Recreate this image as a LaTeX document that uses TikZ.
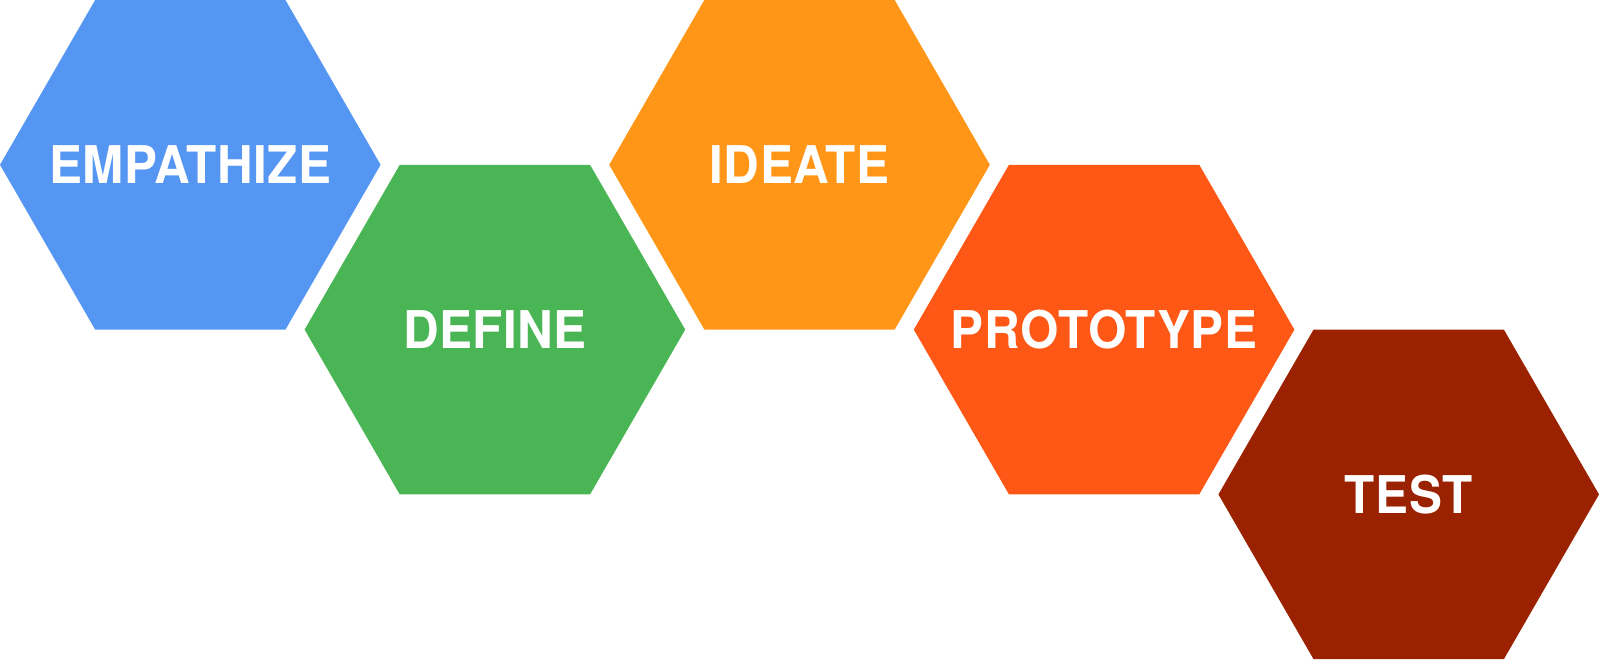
\documentclass[tikz,border=0pt]{standalone}
\usepackage{fontspec}
\setmainfont{TeX Gyre Heros}
\newfontfamily\phasefont[LetterSpace=1, FakeStretch=0.95]{TeX Gyre Heros}
\usepackage{tikz}
\usetikzlibrary{positioning}
\definecolor{empblue}{RGB}{86,150,243}
\definecolor{defgreen}{RGB}{74,181,84}
\definecolor{ideorange}{RGB}{255,150,24}
\definecolor{proorange}{RGB}{255,87,22}
\definecolor{testred}{RGB}{155,34,0}
\newcommand{\hexr}{190.3}
\tikzset{
    phase/.style={text=white, inner sep=0pt, font=\phasefont\fontsize{52}{52}\selectfont\bfseries}
}

\begin{document}
\begin{tikzpicture}[x=1pt, y=-1pt]
            \useasboundingbox (0,0) rectangle (1600,659);
            \coordinate (empathize) at (190.3,164.8);
            \coordinate (define) at (494.9,329.6);
            \coordinate (ideate) at (799.5,164.8);
            \coordinate (prototype) at (1104.1,329.6);
            \coordinate (test) at (1408.7,494.4);

            % hexagons
            \foreach \c/\col in {empathize/empblue, define/defgreen, ideate/ideorange, prototype/proorange, test/testred}
                \fill[\col] (\c) +(0:\hexr) \foreach \a in {60,120,...,300} { -- +(\a:\hexr) } -- cycle;

            \node (empathizetext) [phase] at (empathize) {EMPATHIZE};
            \node (definetext) [phase] at (define) {DEFINE};
            \node (ideatetext) [phase] at (ideate) {IDEATE};
            \node (prototypetext) [phase] at (prototype) {PROTOTYPE};
            \node (testtext) [phase] at (test) {TEST};
        \end{tikzpicture}
\end{document}
